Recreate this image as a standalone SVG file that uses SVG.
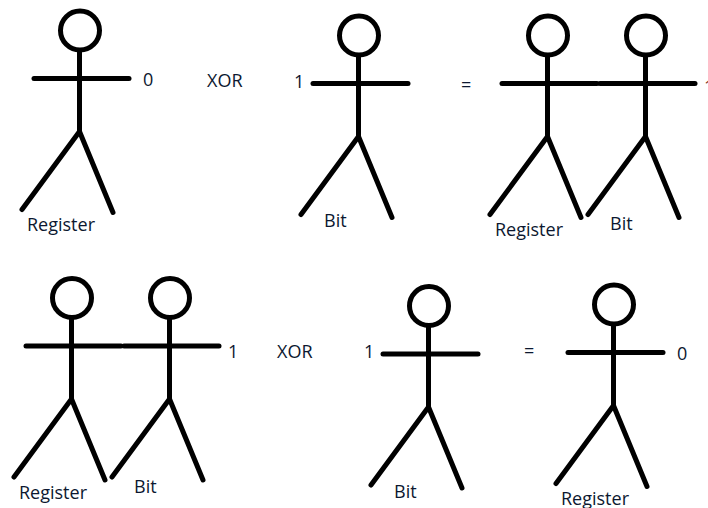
<svg xmlns="http://www.w3.org/2000/svg" width="708" height="508" viewBox="0 0 708 508">
  <style>
    text { font-family: "Open Sans", "Noto Sans", "Liberation Sans", sans-serif; font-size: 18px; fill: #0c1830; }
    .figure { fill: none; stroke: #000; stroke-width: 5; stroke-linecap: round; stroke-linejoin: round; }
  </style>
  <defs>
    <!-- Stick figure drawn around the centre of its head -->
    <g id="stick" class="figure">
      <circle cx="0" cy="0" r="19.5"/>
      <path d="M-0.5 21V101"/>
      <path d="M-46 48H49"/>
      <path d="M-58 179L-0.5 101L33 182"/>
    </g>
  </defs>
  <rect width="708" height="508" fill="#fff"/>

  <g id="register-a"><use href="#stick" x="80" y="30.5"/><text x="27" y="231">Register</text><text x="143" y="85.500">0</text></g>
  <g id="xor-a"><text x="207" y="87">XOR</text></g>
  <g id="bit-a"><use href="#stick" x="359" y="35.500"/><text x="324" y="227">Bit</text><text x="294" y="87.500">1</text></g>
  <g id="equals-a"><text x="461" y="91">=</text></g>
  <g id="register-b"><use href="#stick" x="548" y="35.500"/><text x="495" y="236">Register</text></g>
  <g id="bit-b"><use href="#stick" x="646" y="35.500"/><text x="610" y="230">Bit</text><text x="704" y="93" style="fill:#8a3a2a">1</text></g>

  <g id="register-c"><use href="#stick" x="72" y="298"/><text x="19" y="499">Register</text></g>
  <g id="bit-c"><use href="#stick" x="170" y="298"/><text x="134" y="493">Bit</text><text x="228" y="357.500">1</text></g>
  <g id="xor-b"><text x="277" y="357.500">XOR</text></g>
  <g id="bit-d"><use href="#stick" x="429" y="306"/><text x="394" y="497.500">Bit</text><text x="364" y="357.500">1</text></g>
  <g id="equals-b"><text x="524" y="357">=</text></g>
  <g id="register-d"><use href="#stick" x="614" y="304.500"/><text x="561" y="505">Register</text><text x="677" y="359.500">0</text></g>
</svg>
